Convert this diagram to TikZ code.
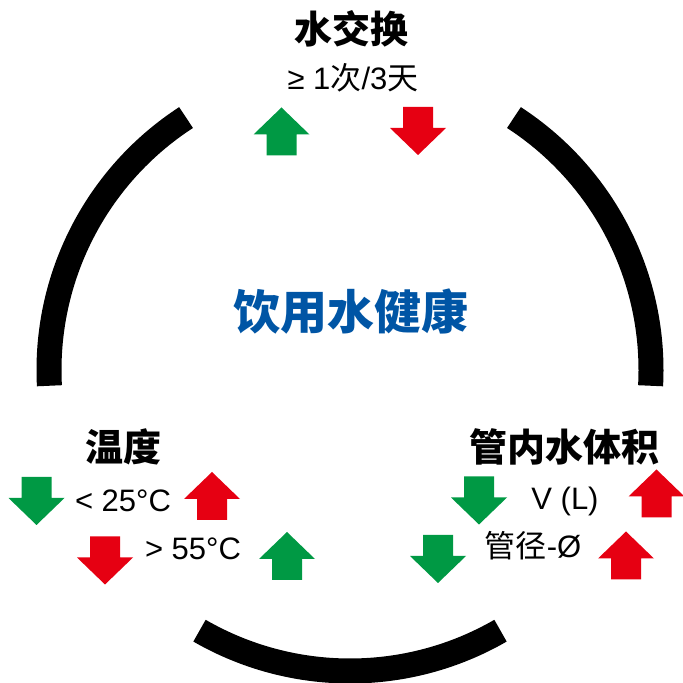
\documentclass[tikz,border=0pt]{standalone}
\usepackage{fontspec}
\setmainfont{Liberation Sans}
\newfontfamily\cjk{Noto Sans CJK SC}
\definecolor{upgreen}{RGB}{0,153,68}
\definecolor{downred}{RGB}{230,0,18}
\definecolor{healthblue}{RGB}{0,85,165}
\tikzset{
  uparr/.pic={\fill (0,24) -- (28,-3) -- (15,-3) -- (15,-24) -- (-15,-24) -- (-15,-3) -- (-28,-3) -- cycle;},
  downarr/.pic={\fill (0,-24) -- (28,3) -- (15,3) -- (15,24) -- (-15,24) -- (-15,3) -- (-28,3) -- cycle;}
}
\begin{document}
\begin{tikzpicture}
[x=1pt,y=1pt,ring/.style={line width=25pt,line cap=butt},
 head/.style={inner sep=0pt,font=\cjk\bfseries\fontsize{38}{40}\selectfont},
 val/.style={inner sep=0pt,anchor=base,font=\fontsize{31}{33}\selectfont}]
\useasboundingbox (0,0) rectangle (683,683);
\coordinate (ctr) at (350,313);

\draw [ring] ([shift={(123:301)}]ctr) arc [start angle=123,end angle=183,radius=301];
\draw [ring] ([shift={(57:301)}]ctr) arc [start angle=57,end angle=-3,radius=301];
\draw [ring] ([shift={(240:301)}]ctr) arc [start angle=240,end angle=300,radius=301];

\node [inner sep=0pt,text=healthblue,font=\cjk\bfseries\fontsize{47}{49}\selectfont] (health) at (351,371) {饮用水健康};

% water exchange
\node [head] (exch) at (351,654) {水交换};
\node [val] (freq) at (353,593) {≥ 1{\cjk 次}/3{\cjk 天}};
\pic [upgreen] (exchUp) at (281.5,551.5) {uparr};
\pic [downred] (exchDown) at (418,552) {downarr};

% temperature
\node [head] (temp) at (123,236) {温度};
\node [val] (cold) at (123,171) {< 25°C};
\node [val] (hot) at (193,123) {> 55°C};
\pic [upgreen] (coldDown) at (36.5,182) {downarr};
\pic [downred] (coldUp) at (212,187) {uparr};
\pic [downred] (hotDown) at (105,122.5) {downarr};
\pic [upgreen] (hotUp) at (287,127) {uparr};

% pipe volume
\node [head] (vol) at (564,236) {管内水体积};
\node [val] (litre) at (565,173) {V (L)};
\node [val] (diam) at (533,125) {{\cjk 管径}-Ø};
\pic [upgreen] (litreDown) at (479,182.5) {downarr};
\pic [downred] (litreUp) at (656.5,189.5) {uparr};
\pic [upgreen] (diamDown) at (438,124) {downarr};
\pic [downred] (diamUp) at (626,127.5) {uparr};
\end{tikzpicture}
\end{document}
